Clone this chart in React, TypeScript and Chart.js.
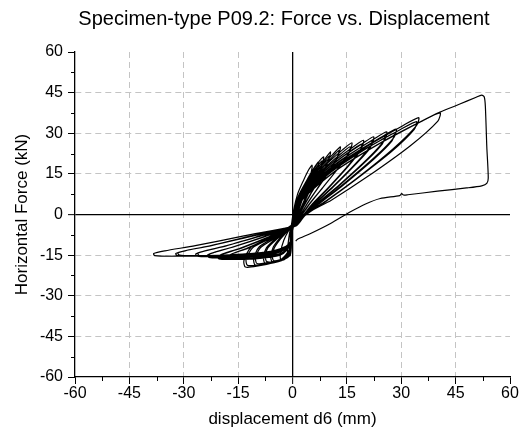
import React, { useEffect, useRef } from "react";
import { Chart, registerables } from "chart.js";
Chart.register(...registerables);

const TITLE = "Specimen-type P09.2: Force vs. Displacement";
const X_LABEL = "displacement d6 (mm)";
const Y_LABEL = "Horizontal Force (kN)";
const xTickValues = [-60, -45, -30, -15, 0, 15, 30, 45, 60];
const yTickValues = [-60, -45, -30, -15, 0, 15, 30, 45, 60];
const minorTickValues = [-52.5, -37.5, -22.5, -7.5, 7.5, 22.5, 37.5, 52.5];

type P = [number, number];
// cycle points: [displacement mm, force kN]
const cycle01: P[] = [[-0.4,-5],[0.3,1.5],[1.4,7.5],[3,12.5],[4.5,16.6],[5.4,18.2],[5.1,15.3],[4.2,11.5],[2.9,6.3],[1.7,1.5],[0.5,-2.5],[-0.6,-5.5],[-1.1,-9.5],[-1.4,-13.5],[-1.2,-15.5],[-0.6,-15.1],[-0.3,-11]];
const cycle02: P[] = [[-0.5,-6],[0.4,1],[1.7,7],[3.8,12.3],[6,17.3],[7.2,19.4],[6.8,16.3],[5.5,12.4],[3.8,7],[2.2,2],[0.7,-2.5],[-1,-5.8],[-2.4,-9.5],[-3.3,-14],[-3.2,-16.9],[-2.2,-16.6],[-0.9,-15],[-0.4,-11]];
const cycle03: P[] = [[-0.5,-6],[0.5,1.5],[1.9,7.5],[4.4,13.5],[7.1,19.2],[8.6,21.3],[8.1,18.1],[6.6,13.9],[4.5,8],[2.6,2.5],[0.9,-2.3],[-1.2,-5.5],[-3.4,-8.5],[-5.3,-12],[-6,-15.6],[-5.6,-17.5],[-3.8,-17.2],[-1.5,-15.8],[-0.6,-12]];
const cycle03r: P[] = [[-0.6,-7],[0.4,0.5],[1.8,6.5],[4.2,12.5],[6.8,17.8],[8.2,19.8],[7.7,16.8],[6.2,12.8],[4.2,7.2],[2.5,2],[0.8,-2.8],[-1.3,-6],[-3.3,-9],[-5,-12.3],[-5.6,-15.3],[-5.2,-17],[-3.5,-16.7],[-1.4,-15.3],[-0.5,-11.5]];
const cycle04: P[] = [[-0.5,-6],[0.5,1.5],[2,7.5],[5.4,14.5],[8.8,20.3],[10.5,23.1],[9.9,19.8],[8.2,15.3],[5.5,8.8],[3.1,3.2],[1.1,-2],[-1.3,-5.3],[-4.3,-8.5],[-7.2,-12.3],[-8,-15.8],[-7.6,-18],[-5,-17.8],[-2,-16.3],[-0.7,-12.5]];
const cycle04r: P[] = [[-0.6,-7],[0.4,0.5],[1.9,6.5],[5.2,13.5],[8.5,19],[10.1,21.6],[9.5,18.5],[7.9,14.3],[5.3,8.2],[3,2.8],[1,-2.5],[-1.4,-5.8],[-4.1,-8.8],[-6.8,-12.3],[-7.5,-15.3],[-7.1,-17.4],[-4.7,-17.2],[-1.9,-15.8],[-0.6,-12]];
const cycle05: P[] = [[-0.4,-6],[0.6,1.2],[2.1,7],[6.6,15.8],[11,22],[13.2,25],[12.6,21.8],[10.5,17],[6.8,9.5],[3.8,3.5],[1.4,-1.8],[-1.2,-5],[-5.1,-8.5],[-9.2,-12],[-10.7,-16.2],[-10.3,-18.7],[-7,-18.3],[-3,-16.8],[-0.9,-13]];
const cycle05r: P[] = [[-0.5,-7.5],[0.5,0.3],[2,6.2],[6.4,14.8],[10.7,20.8],[12.8,23.6],[12.2,20.6],[10.2,16],[6.6,9],[3.7,3.2],[1.3,-2.2],[-1.3,-5.4],[-4.9,-8.8],[-8.8,-12.2],[-10.2,-15.8],[-9.8,-18.1],[-6.7,-17.8],[-2.9,-16.3],[-0.8,-12.6]];
const cycle06: P[] = [[-0.4,-6.5],[0.7,0.8],[2.2,6.8],[7.8,16.5],[13.9,24],[16.4,26.5],[15.8,23.3],[13.1,18],[8.4,10],[4.6,3.8],[1.6,-1.8],[-1.2,-4.8],[-6.5,-8.7],[-11.4,-12],[-13.4,-17],[-13,-19.4],[-9.5,-19],[-4.5,-17.5],[-1,-15.5],[-0.3,-9]];
const cycle06r: P[] = [[-0.5,-8],[0.6,0],[2.1,6],[7.5,15.5],[13.5,22.6],[15.9,25],[15.3,22],[12.7,17.2],[8.1,9.5],[4.5,3.5],[1.5,-2.2],[-1.3,-5.2],[-6.3,-9],[-11,-12.3],[-12.8,-16.6],[-12.4,-18.8],[-9.1,-18.5],[-4.3,-17.1],[-0.9,-15],[-0.2,-9]];
const cycle07: P[] = [[-0.4,-7],[0.7,0.5],[2.2,6.5],[5.5,12.6],[11.6,19.8],[17,25.2],[19.6,27.4],[19,24.4],[15.7,18.6],[10,10.1],[5.4,3.8],[3,-0.2],[0.8,-3.4],[-2,-5.5],[-6.3,-8.6],[-12.6,-12.5],[-16.6,-14.5],[-18,-15.6],[-17.6,-16.4],[-15.3,-16.6],[-9,-16.2],[-3.6,-15.1],[-1.5,-13.1],[-0.4,-9.5]];
const cycle07r: P[] = [[-0.5,-8],[0.6,-0.5],[2.1,5.6],[5.3,11.8],[11.3,18.8],[16.6,24],[19.1,26],[18.5,23.2],[15.3,17.7],[9.8,9.6],[5.3,3.4],[2.9,-0.6],[0.7,-3.8],[-2.1,-5.8],[-6.1,-8.7],[-12.2,-12.4],[-16.1,-14.2],[-17.5,-15.2],[-17.1,-16],[-14.9,-16.2],[-8.8,-15.8],[-3.5,-14.7],[-1.4,-12.7],[-0.3,-9.5]];
const cycle08: P[] = [[-0.3,-7],[0.8,0],[2.3,6.2],[6.3,13],[13.2,20.7],[19.4,26.3],[22.4,28.7],[21.8,25.7],[17.9,19.5],[11.4,10.6],[6.1,4],[3.2,-0.1],[0.9,-3.5],[-2,-5.3],[-7.2,-8.6],[-14.5,-12.5],[-19,-14.5],[-20.7,-15.6],[-20.3,-16.4],[-17.6,-16.6],[-10.4,-16.2],[-4.1,-15.1],[-1.6,-13],[-0.4,-9.5]];
const cycle08r: P[] = [[-0.4,-8],[0.7,-0.8],[2.2,5.4],[6.1,12.2],[12.9,19.7],[19,25],[21.9,27.2],[21.3,24.3],[17.5,18.6],[11.2,10.1],[6,3.6],[3.1,-0.5],[0.8,-3.9],[-2.1,-5.6],[-7,-8.7],[-14.1,-12.4],[-18.6,-14.2],[-20.2,-15.2],[-19.8,-16],[-17.2,-16.2],[-10.1,-15.8],[-4,-14.7],[-1.5,-12.7],[-0.3,-9.5]];
const cycle09: P[] = [[-0.3,-7],[0.9,0],[2.4,6],[7.4,13.7],[15.4,21.8],[22.6,28],[26,30.5],[25.4,27.5],[20.8,20.7],[13.2,11.3],[7,4.3],[3.3,0],[1,-3.6],[-2,-5.2],[-8.2,-8.3],[-16.5,-12],[-21.6,-14],[-23.5,-15],[-23.1,-15.8],[-20,-16],[-11.8,-15.6],[-4.7,-14.5],[-1.7,-12.5],[-0.4,-9.5]];
const cycle09r: P[] = [[-0.4,-8],[0.8,-0.8],[2.3,5.3],[7.2,13],[15,20.8],[22.1,26.6],[25.4,29],[24.8,26.1],[20.3,19.7],[12.9,10.7],[6.9,4],[3.2,-0.4],[0.9,-4],[-2.1,-5.5],[-8,-8.4],[-16.1,-11.9],[-21.1,-13.8],[-23,-14.7],[-22.6,-15.5],[-19.6,-15.7],[-11.5,-15.3],[-4.6,-14.2],[-1.6,-12.3],[-0.3,-9.5]];
const cycle10: P[] = [[-0.3,-7],[0.9,-0.3],[2.5,5.8],[8.2,14],[17,22.5],[24.9,28.9],[28.6,31.5],[28,28.5],[22.9,21.4],[14.5,11.7],[7.7,4.4],[3.4,0],[1.1,-3.7],[-2,-5],[-9.3,-8],[-18.7,-11.7],[-24.6,-13.6],[-26.7,-14.6],[-26.3,-15.4],[-22.7,-15.6],[-13.4,-15.2],[-5.3,-14.1],[-1.8,-12.1],[-0.4,-9.5]];
const cycle10r: P[] = [[-0.4,-8],[0.8,-1],[2.4,5.1],[8,13.3],[16.6,21.5],[24.4,27.5],[28,30],[27.4,27.1],[22.4,20.4],[14.2,11.1],[7.5,4.1],[3.3,-0.4],[1,-4.1],[-2.1,-5.3],[-9.1,-8.1],[-18.3,-11.6],[-24.1,-13.4],[-26.1,-14.4],[-25.7,-15.2],[-22.2,-15.4],[-13.1,-15],[-5.2,-13.9],[-1.7,-11.9],[-0.3,-9.5]];
const cycle11: P[] = [[-0.3,-7.2],[1,-0.5],[2.6,5.6],[10,15.5],[20.7,25.3],[30.3,32.7],[34.8,35.8],[34.2,32.8],[27.8,24.3],[17.6,13.2],[9.2,5],[3.6,0.1],[1.2,-3.8],[-2,-5],[-11.3,-7.9],[-22.5,-11.5],[-29.6,-13.4],[-32.2,-14.4],[-31.8,-15.2],[-27.4,-15.4],[-16.1,-15],[-6.4,-13.9],[-1.9,-11.9],[-0.4,-9.5]];
const cycle11r: P[] = [[-0.4,-8],[0.9,-1.2],[2.5,5],[9.8,14.8],[20.3,24.3],[29.8,31.4],[34.2,34.3],[33.6,31.4],[27.4,23.3],[17.3,12.7],[9.1,4.7],[3.5,-0.3],[1.1,-4.2],[-2.1,-5.3],[-11.1,-8],[-22.1,-11.4],[-29.1,-13.2],[-31.6,-14.2],[-31.2,-15],[-26.9,-15.2],[-15.8,-14.8],[-6.3,-13.7],[-1.8,-11.7],[-0.3,-9.5]];
const cycle12: P[] = [[-0.3,-7.3],[1.1,-0.7],[2.7,5.4],[11.8,16.1],[24.2,26.4],[35.4,34.3],[40.7,37.5],[40.1,34.5],[32.6,25.5],[20.6,13.9],[10.7,5.3],[3.8,0.2],[1.3,-3.9],[-2,-5],[-13.4,-7.9],[-26.8,-11.5],[-35.2,-13.4],[-38.3,-14.4],[-38,-15.2],[-32.6,-15.4],[-19.2,-15],[-7.7,-13.9],[-2,-11.9],[-0.4,-9.5]];
const cycle13: P[] = [[-0.4,-8],[1,-1],[2.6,5.2],[11.8,16],[24.2,26.3],[35.4,34.3],[40.7,37.8],[46,40.7],[50.5,43.2],[52.2,44.1],[52.9,43.4],[53.2,40],[53.6,25],[54,13.5],[53.6,11.5],[52.2,10.6],[48,9.8],[40,8.6],[31.8,7.3],[30.6,7.2],[30.1,7.7],[29.6,7],[24.2,5.9],[20,3.8],[16,1],[10.5,-3.3],[5,-7],[1.3,-9.2],[0.9,-9.8]];

const cycles: P[][] = [
  cycle01, cycle02, cycle03, cycle03r, cycle04, cycle04r, cycle05, cycle05r, cycle06, cycle06r,
  cycle07, cycle07r, cycle08, cycle08r, cycle09, cycle09r, cycle10, cycle10r, cycle11, cycle11r,
  cycle12, cycle13,
];

const FONT = '"Liberation Sans", Arial, sans-serif';

export default function App() {
  const ref = useRef<HTMLCanvasElement | null>(null);
  useEffect(() => {
    if (!ref.current) return;
    const points = cycles.flat().map(([x, y]) => ({ x, y }));
    const extras = {
      id: "extras",
      afterDraw(chart: any) {
        const { ctx, chartArea, scales } = chart;
        ctx.save();
        ctx.strokeStyle = "#000";
        ctx.lineWidth = 1;
        for (const v of minorTickValues) {
          const px = Math.round(scales.x.getPixelForValue(v)) + 0.5;
          ctx.beginPath();
          ctx.moveTo(px, chartArea.bottom);
          ctx.lineTo(px, chartArea.bottom + 4);
          ctx.stroke();
          const py = Math.round(scales.y.getPixelForValue(v)) + 0.5;
          ctx.beginPath();
          ctx.moveTo(chartArea.left, py);
          ctx.lineTo(chartArea.left - 4, py);
          ctx.stroke();
        }
        ctx.fillStyle = "#000";
        ctx.font = `20px ${FONT}`;
        ctx.textAlign = "center";
        ctx.textBaseline = "alphabetic";
        ctx.fillText(TITLE, 284, 25);
        ctx.restore();
      },
    };
    const gridColor = (c: any) => {
      const v = c.tick ? c.tick.value : null;
      if (v === 0) return "#000";
      if (v === 60 || v === -60) return "rgba(0,0,0,0)";
      return "#c4c4c4";
    };
    const gridWidth = (c: any) => (c.tick && c.tick.value === 0 ? 1.3 : 1);
    const dash = (c: any) => (c.tick && c.tick.value === 0 ? [] : [6, 4]);
    const chart = new Chart(ref.current, {
      type: "scatter",
      data: {
        datasets: [
          {
            data: points,
            showLine: true,
            borderColor: "#000",
            borderWidth: 1.2,
            pointRadius: 0,
            tension: 0.25,
            fill: false,
          },
        ],
      },
      options: {
        responsive: false,
        animation: false,
        layout: { padding: { top: 52, right: 19, bottom: 0, left: 0 } },
        plugins: { legend: { display: false }, tooltip: { enabled: false }, title: { display: false } },
        scales: {
          x: {
            type: "linear",
            min: -60,
            max: 60,
            afterBuildTicks: (s: any) => {
              s.ticks = xTickValues.map((v) => ({ value: v }));
            },
            afterFit: (s: any) => {
              s.height = 61;
            },
            ticks: { color: "#000", font: { family: FONT, size: 16 }, padding: 0, maxRotation: 0, autoSkip: false },
            grid: { color: gridColor, lineWidth: gridWidth, tickColor: "#000", tickLength: 7, tickWidth: 1 },
            border: { display: true, color: "#000", width: 1.3, dash },
            title: { display: true, text: X_LABEL, color: "#000", font: { family: FONT, size: 17 }, padding: { top: 0, bottom: 8 } },
          },
          y: {
            type: "linear",
            min: -60,
            max: 60,
            afterBuildTicks: (s: any) => {
              s.ticks = yTickValues.map((v) => ({ value: v }));
            },
            afterFit: (s: any) => {
              s.width = 75;
            },
            ticks: { color: "#000", font: { family: FONT, size: 16 }, padding: 5, autoSkip: false },
            grid: { color: gridColor, lineWidth: gridWidth, tickColor: "#000", tickLength: 7, tickWidth: 1 },
            border: { display: true, color: "#000", width: 1.3, dash },
            title: { display: true, text: Y_LABEL, color: "#000", font: { family: FONT, size: 17 }, padding: { top: 12, bottom: 0 } },
          },
        },
      },
      plugins: [extras],
    });
    return () => chart.destroy();
  }, []);
  return (
    <div style={{ position: "absolute", left: 0, top: 0, width: 529, height: 438, background: "#fff" }}>
      <canvas ref={ref} width={529} height={438} />
    </div>
  );
}
